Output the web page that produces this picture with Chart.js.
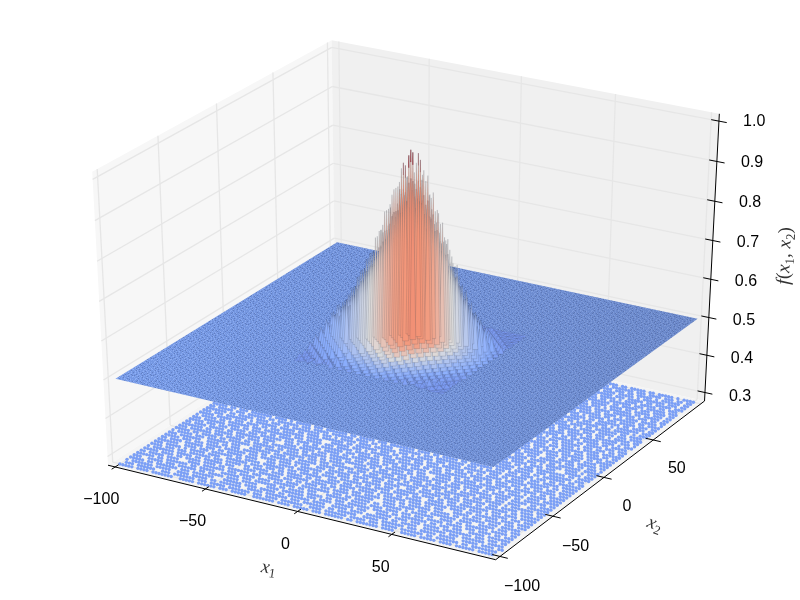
<!DOCTYPE html>
<html>
<head>
<meta charset="utf-8">
<style>
html, body { margin: 0; padding: 0; background: #fff; }
canvas { display: block; }
</style>
<script src="https://cdn.jsdelivr.net/npm/chart.js@4"></script>
</head>
<body>
<canvas id="surfaceChart" width="800" height="600"></canvas>
<script>
// axis limits and ticks
const axisLim = [-104, 104];
const zLim = [0.277, 1.018];
const gridTicks = [-100, -50, 0, 50, 100];
const axisTicks = [-100, -50, 0, 50];
const zTicks = [0.3, 0.4, 0.5, 0.6, 0.7, 0.8, 0.9, 1.0];

// flat part of the surface and the scatter below it
const surfaceEdge = [-100, 100];
const surfaceLevel = 0.5;
const floorEdge = [-100, 100];

// the peak, sampled around the origin. values are f * 100, rows run along x2
const meshAxis = [-40, -37.5, -35, -32.5, -30, -27.5, -25, -22.5, -20, -17.5, -15, -12.5, -10, -7.5, -5, -2.5, 0,
    2.5, 5, 7.5, 10, 12.5, 15, 17.5, 20, 22.5, 25, 27.5, 30, 32.5, 35, 37.5, 40];
const meshF = [
    [50,50,51,50,51,50,51,51,52,51,52,51,52,52,53,51,53,52,53,51,52,51,52,51,52,51,51,50,51,50,50,50,50],
    [50,51,50,51,51,52,51,52,51,53,52,53,51,54,52,54,51,55,52,54,52,53,51,52,51,52,51,51,50,51,50,50,50],
    [51,50,51,50,52,51,52,51,53,51,54,52,55,52,56,52,57,51,55,52,55,51,54,52,53,51,52,51,52,50,51,50,50],
    [50,51,50,52,51,53,51,53,52,54,52,56,53,57,52,58,53,59,52,57,53,56,52,54,52,53,51,52,51,51,50,51,50],
    [51,50,52,51,53,51,54,52,55,52,57,53,59,53,60,54,62,53,60,54,58,52,56,53,55,52,53,51,52,51,51,50,51],
    [50,52,51,53,52,54,52,56,53,58,54,60,54,62,55,64,55,65,54,62,55,60,53,58,52,55,52,53,51,52,50,51,50],
    [52,50,53,51,54,52,56,53,58,54,61,55,63,56,66,56,68,56,65,55,63,54,60,53,57,52,54,51,53,51,52,50,51],
    [51,53,51,54,52,56,53,59,54,62,55,65,57,68,56,71,58,72,56,69,56,65,54,62,53,58,52,55,51,53,51,52,50],
    [53,51,54,52,56,53,59,54,62,56,66,57,70,58,73,59,76,58,73,57,69,56,65,55,61,53,58,52,55,51,53,51,52],
    [52,54,52,56,53,59,55,62,56,66,58,71,59,75,60,78,61,80,59,76,60,71,57,66,55,62,54,58,52,55,51,53,51],
    [54,52,55,53,58,54,61,56,66,58,71,60,76,62,80,63,84,62,81,61,77,59,71,57,65,55,60,53,57,52,55,51,53],
    [53,55,53,58,54,62,56,66,58,71,60,76,63,81,64,86,65,88,63,84,62,78,60,72,57,66,55,61,53,57,52,54,51],
    [55,53,57,54,60,55,65,57,70,60,75,63,81,65,87,67,92,66,88,64,82,61,76,59,70,56,63,54,58,52,56,51,53],
    [54,57,54,60,55,64,57,69,59,74,62,80,64,86,67,92,69,95,68,90,65,83,62,75,58,68,56,62,54,58,53,55,52],
    [56,54,58,55,62,56,67,58,72,61,78,64,85,68,91,70,97,70,93,67,86,63,78,60,71,57,65,55,60,53,57,52,54],
    [55,58,55,61,56,66,58,71,60,77,62,84,66,90,70,97,72,100,71,95,67,87,63,79,60,71,57,64,54,59,53,56,52],
    [57,55,59,56,63,57,68,58,73,62,80,65,88,69,95,72,100,73,98,70,90,65,81,61,72,58,66,55,60,54,57,52,54],
    [55,58,56,61,57,66,57,70,61,78,63,85,67,91,71,98,72,99,70,94,66,86,62,78,59,70,56,63,55,58,52,55,51],
    [56,54,58,55,61,57,66,59,73,61,79,65,85,67,92,70,96,69,92,66,85,64,79,60,72,57,64,54,59,53,56,52,53],
    [53,56,54,59,55,63,58,68,60,75,62,81,65,87,66,93,68,94,67,89,64,82,61,74,58,67,55,61,53,57,52,54,51],
    [54,52,56,53,60,55,64,57,69,59,75,62,82,64,88,66,91,65,87,63,81,60,75,58,69,55,62,54,57,52,55,51,52],
    [52,54,52,57,53,61,55,65,57,70,60,77,62,82,64,85,63,87,62,83,61,77,59,71,56,65,54,60,52,56,51,53,50],
    [53,51,55,52,57,54,60,55,65,58,70,60,76,61,81,62,83,61,80,60,76,58,70,56,64,54,59,52,56,51,54,50,52],
    [51,53,52,55,53,58,54,61,56,67,58,70,59,76,60,79,60,79,58,75,59,70,56,65,54,61,53,57,51,54,50,52,50],
    [52,50,53,51,55,52,58,54,61,55,65,57,69,58,72,58,75,57,72,56,68,55,64,54,60,52,57,51,54,50,52,50,51],
    [50,52,51,53,52,56,53,58,54,61,55,65,56,67,56,70,57,71,55,68,55,64,53,61,52,57,51,54,51,52,50,51,50],
    [51,50,52,51,53,52,55,53,57,54,60,54,63,55,65,55,67,55,64,54,62,53,59,52,56,51,53,51,52,50,51,50,50],
    [50,51,50,52,51,53,52,54,53,56,53,59,54,60,54,63,54,63,53,60,54,58,52,56,51,54,51,52,50,51,50,50,50],
    [51,50,51,50,52,51,53,51,54,52,56,52,57,53,59,53,60,52,58,53,56,52,54,51,53,51,52,50,51,50,50,50,50],
    [50,50,50,51,50,52,51,52,52,53,51,54,52,55,52,56,52,57,52,55,52,54,51,53,51,52,50,51,50,50,50,50,50],
    [50,50,50,50,51,50,52,51,52,51,53,51,53,52,54,51,55,51,54,51,53,51,52,51,51,50,51,50,50,50,50,50,50],
    [50,50,50,50,50,51,50,51,51,52,51,52,51,53,51,53,51,53,51,52,51,52,50,51,50,51,50,50,50,50,50,50,50],
    [50,50,50,50,50,50,50,50,51,50,51,50,52,50,52,51,52,50,52,50,51,50,51,50,50,50,50,50,50,50,50,50,50]
];

// floor scatter, '#' is a point. rows run from x2=-100 to x2=100, columns from x1=-100 to x1=100.
// rows past x2=-14 are only listed for the strip the surface does not cover
const floorRows = [
    "#####.####.#######..#####.######.###.#####..#######.####.#####.###.######.##.#######.####..#####.#####.####.######.#####",
    "###.######..###.#######.###.#####.#######.###.####.#######..####.#######.#####.###.#####.#######.##.#######.##.########",
    "#.#######.#####..####.#####.##.#######..#####.#######.###.#######.##.######..#####.#######.###.#####.#####..#####.####.##",
    "#####.##.#######.###.#######...######.####.#####.##.#######.####..#####.####.#######.##.#####..#######.###.#######.#####",
    "###..#####.###.######.##.#####.####.#####...####.#######.###.####.######.###...#####.####.###.#####.#########.###.###.##",
    "######.##.#######.##.#####..######.###.#######.##.#####.#####.##.###.#######.#####.##.########.##.###.###..#####.#######",
    "##.#####.####...####.#######.###.#####.####.#######.##.###...#######.#####.####.####.###.###.#####.#####.###.####.##.###",
    "#####.####.##.#####.####.##.#######.###..#####.####.#########.###.##.#####.##.######.#.#######..####.##.#######.#####.##",
    "#.#######.#####.##.######.###...####.#######.###.##.####.###.#####.#######...####.#####.###.########.####..#####.###.###",
    "####.###.###.#######.###.#####.##.#####.####.#######.#####.##.###.###.#####.####.##.#######.#####.##.#######.###.######.",
    "###.#####.#.#####.####..#######.####.###.##.#####.##.#######.#####.#####.#.#######.####.##.###...#####.###.#####.###.###",
    "#######..####.###.#######.##.#####.#######.###.#######..####.###.#######.####.##.#####.#######.####.##.#######.####.####",
    "##.####.######.###.##.#####.####...###.#####.####.##.#####.#######.##.#####.#####.###..#####.######.####.#.#####.###.###",
    "#####.###.###.#####.#######.###.#####.####.#.#######.###.####.##.######.###.#######.####.##.###.#########.###.####.#####",
    "###.#######..####.##.###.#####.##.#######.#####..###.#######.#####.###.#####..###.#######.#####.###.##.#######.##.######",
    "#.#####.###.#######.###...#######.####.##.######.#####.##.####.#######.##.#######.###.#####.##.#######.###.#####.####.##",
    "#####.##.#####.##.#######.###.#####.#######.###.###.#######.###.###.######.##.#####.###.########.###.#####.#.#######.###",
    "###.#######.###.#####.##.#######.##.####.#####.##.#####...#####.#######.###.####.#######.##.#####.####.###.####..#######",
    "#######.##.######.###.####.##.#########.##.#####.####.#######.##.###.#####.#######.##.#####.#.#######.####.#####.##.####",
    "##.####.#####.##.########.####...####.#####.###.#######.###.#####.######.##.####.#####.###.#####.##.######.##.#######.##",
    "#####.###.###.#####.###.#######.###.#.######.#####.##.#####.###.##.#######.###...#####.#########.###.##.#####.####.#####",
    "###.#######.####.##.#####.##.#####.####.##.#######.###.#######.#####.##.#####.#######.##.####.#######.#####.#.#####.####",
    "#.#####.##.#######.###.#########.###.#####.###.#####.#####.##.####.#######.##.###.########.###.##.#####.#######.##.#####",
    "#####.#####.###.####.##.###.#######.#####...######.###.#.#######.#####.###.#####.##.####.#######.####.###.##.#######.###",
    "###.###.#######.#.#######.#####.##.####.#######.##.#######.###.##.#######.####.#######.##.##.#####.#######.####.###.####",
    "#######.##.#####.####.###.##.#########.###.#.#####.####.#######.###.#.#####.###.####.#######.###.##.####.#######.##.####",
    "##.#####.###.######.##.#######.###.#####.#######.####.##.####..#######.###.#########.###.#.#####.#######.###.#####.#####",
    "#####.##.###.#######.####.#.#####.###.#######.##.#####.###.########.####.##.#####.##.#######.###.###.####.###.##.#######",
    "###.#######.##.#####.###.#######.##.####.###.########.###.##.#####.####.#######.##.####.###.#####.#####.##.#######.##.##",
    "#.#####.#####.###.#######.###.",
    "#####.##.###.#########.##.####",
    "###.#####.####.###...#####.###",
    "#######.###.#.#####.####.#.###",
    "##.####.#####.##.#######.#####",
    "#####.###.#######.###.##.###.#",
    "###.#####..###.#####.######.##",
    "#.#######.####.##.###.####.###",
    "####.##.#####.#######.##.#####",
    "###.#####.#.####.###.#####.###",
    "#######.###.#######.####.##.##",
    "##.####.##.####.#.#####.######",
    "#####.###.######.###.###.##.##",
    "###.#.#######.##.#####.###.###",
    "#######.##.###.#####.##.#####.",
    "##.#####.###.######.####.#.###",
    "####.##.#####.##.#######.###.#",
    "###.#######.###.###.#.#####.##",
    "#.#####.#.#####.#####.###.####",
    "#####.####.##.#######.##.####.",
    "###.##.#######.###.#####.#.###",
    "#######.###.####.#.#######.###",
    "##.#####.##.#######.##.####.##",
    "#####.#.#####.###.#####.###.##",
    "###.#######.##.#######.##.####",
    "#######.##.####.#.####.#####.#",
    "#.####.#####.#######.###.##.##",
    "####.###.#.#######.##.#####.##",
    "###.#####.####.##.#####.###.##",
    "#.#######.##.#####.###.####.##",
    "####.##.#######.###.######.###",
    "###.#####.#.####.#####.##.###.",
    "#######.###.#####.##.#####.###",
    "##.####.#####.#.#######.###.##",
    "#####.###.##.#####.#.######.##",
    "###.#######.###.####.###.##.##",
    "#.###.##.#####.##.#####.#.####"
];

const coolwarm = [[59, 76, 192], [141, 176, 254], [221, 221, 221], [244, 150, 120], [180, 4, 38]];

// same camera as mplot3d: elev 30, azim -60, dist 10
const camRight = [0.866, 0.5, 0];
const camUp = [-0.25, 0.433, 0.866];
const camBack = [0.433, -0.75, 0.5];
const camDist = 10;

function pt(x1, x2, z) {
    const p = [
        (x1 - axisLim[0]) / (axisLim[1] - axisLim[0]) - 0.5,
        (x2 - axisLim[0]) / (axisLim[1] - axisLim[0]) - 0.5,
        (z - zLim[0]) / (zLim[1] - zLim[0]) - 0.5
    ];
    const dot = a => a[0] * p[0] + a[1] * p[1] + a[2] * p[2];
    const w = camDist - dot(camBack);
    return { x: 411 + 4520 * dot(camRight) / w, y: 291 - 3395 * dot(camUp) / w, w: w };
}

function shape(points, fillColor, lineColor, lineWidth) {
    return {
        data: points,
        showLine: true,
        fill: lineColor && !fillColor ? false : 'shape',
        backgroundColor: fillColor || 'transparent',
        borderColor: lineColor || 'transparent',
        borderWidth: lineWidth || 0,
        pointRadius: 0,
        tension: 0
    };
}

function segment(a, b, color, width) {
    return shape([a, b], null, color, width);
}

function colorAt(raw) {
    const t = Math.max(0, Math.min(1, raw)) * 4;
    const k = Math.min(3, Math.floor(t));
    const c = [0, 1, 2].map(n => Math.round(coolwarm[k][n] + (coolwarm[k + 1][n] - coolwarm[k][n]) * (t - k)));
    return `rgb(${c[0]},${c[1]},${c[2]})`;
}

function surfaceColor(f) {
    const low = Math.min(f, 0.9);
    return colorAt(0.19 + (low - 0.5) * 1.3 + (f - low) * 0.5);
}

const canvas = document.getElementById('surfaceChart');
const ctx = canvas.getContext('2d');

// speckle of the very dense flat triangles
const tileRows = [
    "baacabdaabacaabdaca",
    "acabdaabacabadaabac",
    "dabaacbadaabaacabad",
    "abaaadabacbaabdaaab",
    "aabdacabaadbacaabaa",
    "aadabaabaabadaacdab",
    "abaacdabaacaabaabaa",
    "daacabacdabaaadabac",
    "abadabaacaadabaacab",
    "acaabadabaacbdaabaa",
    "badaacabacabaacdaba",
    "aabcadabdaacabaabad",
    "daabaacabaadbaacaab",
    "abacdaabaabaadabaca",
    "aadabacaabdacabaada",
    "cabaadabacaabadaaba",
    "abdaabaacdabaacabda"
];
const tileColors = { a: '#7598e4', b: '#82a5f0', c: '#6280c6', d: '#8fb0f6' };
const tile = document.createElement('canvas');
tile.width = 19;
tile.height = 17;
const tileCtx = tile.getContext('2d');
tileRows.forEach((row, j) => {
    [...row].forEach((ch, i) => {
        tileCtx.fillStyle = tileColors[ch];
        tileCtx.fillRect(i, j, 1, 1);
    });
});

const darken = ctx.createLinearGradient(115, 0, 697, 0);
darken.addColorStop(0, 'rgba(70,80,110,0)');
darken.addColorStop(1, 'rgba(70,80,110,0.24)');

const [lo, hi] = axisLim;
const [zLo, zHi] = zLim;
const layers = [];

// panes
layers.push(shape([pt(lo, lo, zLo), pt(lo, hi, zLo), pt(lo, hi, zHi), pt(lo, lo, zHi), pt(lo, lo, zLo)], '#f7f7f7'));
layers.push(shape([pt(lo, hi, zLo), pt(hi, hi, zLo), pt(hi, hi, zHi), pt(lo, hi, zHi), pt(lo, hi, zLo)], '#f0f0f0'));
layers.push(shape([pt(lo, lo, zLo), pt(hi, lo, zLo), pt(hi, hi, zLo), pt(lo, hi, zLo), pt(lo, lo, zLo)], '#f4f4f4'));

// grid
const gridColor = '#e6e6e6';
gridTicks.forEach(t => {
    layers.push(segment(pt(lo, t, zLo), pt(lo, t, zHi), gridColor, 1.3));
    layers.push(segment(pt(lo, t, zLo), pt(hi, t, zLo), gridColor, 1.3));
    layers.push(segment(pt(t, hi, zLo), pt(t, hi, zHi), gridColor, 1.3));
    layers.push(segment(pt(t, lo, zLo), pt(t, hi, zLo), gridColor, 1.3));
});
zTicks.forEach(t => {
    layers.push(segment(pt(lo, lo, t), pt(lo, hi, t), gridColor, 1.3));
    layers.push(segment(pt(lo, hi, t), pt(hi, hi, t), gridColor, 1.3));
});

// floor scatter
const floorPoints = [];
floorRows.forEach((row, j) => {
    const full = row.padStart(120, '.');
    [...full].forEach((ch, i) => {
        if (ch !== '#') return;
        floorPoints.push(pt(
            floorEdge[0] + (floorEdge[1] - floorEdge[0]) * i / 119,
            floorEdge[0] + (floorEdge[1] - floorEdge[0]) * j / (floorRows.length - 1),
            zLo
        ));
    });
});
layers.push({ data: floorPoints, backgroundColor: '#7b9ff5', borderWidth: 0, pointRadius: 1.7 });

// flat surface
const [s0, s1] = surfaceEdge;
const planeCorners = [pt(s0, s0, surfaceLevel), pt(s1, s0, surfaceLevel), pt(s1, s1, surfaceLevel), pt(s0, s1, surfaceLevel), pt(s0, s0, surfaceLevel)];
layers.push(shape(planeCorners, ctx.createPattern(tile, 'repeat')));
layers.push(shape(planeCorners, darken));

// peak: a low body of triangles, far ones first, then thin spikes, the tallest last
const bodyParts = [];
const spikes = [];
const caps = [];
const meshLast = meshAxis.length - 1;

function bodyLevel(i, j) {
    const f = meshF[j][i] / 100;
    return surfaceLevel + (f - surfaceLevel) * ((i + j) % 2 === 0 ? 0.86 : 0.85);
}

function addTriangle(a, b, c) {
    const v = [a, b, c].map(([i, j]) => ({ p: pt(meshAxis[i], meshAxis[j], bodyLevel(i, j)), f: bodyLevel(i, j) }));
    const mean = (v[0].f + v[1].f + v[2].f) / 3;
    const top = Math.max(v[0].f, v[1].f, v[2].f);
    bodyParts.push({
        depth: (v[0].p.w + v[1].p.w + v[2].p.w) / 3,
        color: surfaceColor((mean + top) / 2),
        line: 'rgba(50,55,70,0.25)',
        points: [v[0].p, v[1].p, v[2].p, v[0].p]
    });
}

function addSpike(i, j) {
    const top = meshF[j][i] / 100;
    const around = [[i - 1, j], [i + 1, j], [i, j - 1], [i, j + 1]]
        .filter(([a, b]) => a >= 0 && b >= 0 && a <= meshLast && b <= meshLast)
        .map(([a, b]) => meshF[b][a] / 100);
    const base = surfaceLevel + (Math.min(...around) - surfaceLevel) * 0.15;
    const x1 = meshAxis[i];
    const x2 = meshAxis[j];
    const tip = pt(x1, x2, top);
    spikes.push({
        top: top,
        depth: tip.w,
        color: surfaceColor(top),
        line: 'rgba(50,55,70,0.4)',
        points: [tip, pt(x1 - 1.2, x2 - 0.7, base), pt(x1 + 1.2, x2 + 0.7, base), tip]
    });
    if (top >= 0.97) {
        const neck = top - 0.03;
        const share = (top - neck) / (top - base);
        caps.push({
            color: '#c0303f',
            line: 'rgba(120,30,40,0.5)',
            points: [tip, pt(x1 - 1.2 * share, x2 - 0.7 * share, neck), pt(x1 + 1.2 * share, x2 + 0.7 * share, neck), tip]
        });
    }
}

for (let j = 0; j < meshLast; j++) {
    for (let i = 0; i < meshLast; i++) {
        if ((i + j) % 2 === 0) {
            addTriangle([i, j], [i + 1, j], [i, j + 1]);
            addTriangle([i + 1, j + 1], [i + 1, j], [i, j + 1]);
        } else {
            addTriangle([i + 1, j], [i, j], [i + 1, j + 1]);
            addTriangle([i, j + 1], [i, j], [i + 1, j + 1]);
        }
    }
}
for (let j = 0; j <= meshLast; j++) {
    for (let i = 0; i <= meshLast; i++) {
        if ((i + j) % 2 === 0 && meshF[j][i] > 51) addSpike(i, j);
    }
}
bodyParts.sort((a, b) => b.depth - a.depth);
spikes.sort((a, b) => a.top - b.top || b.depth - a.depth);
bodyParts.concat(spikes, caps).forEach(t => layers.push(shape(t.points, t.color, t.line, 0.4)));

// axes and ticks
const axisColor = '#000';
layers.push(segment(pt(lo, lo, zLo), pt(hi, lo, zLo), axisColor, 1));
layers.push(segment(pt(hi, lo, zLo), pt(hi, hi, zLo), axisColor, 1));
layers.push(segment(pt(hi, hi, zLo), pt(hi, hi, zHi), axisColor, 1));
axisTicks.forEach(t => {
    layers.push(segment(pt(t, lo - 3, zLo), pt(t, lo + 3, zLo), axisColor, 1));
    layers.push(segment(pt(hi - 4, t, zLo), pt(hi + 4, t, zLo), axisColor, 1));
});
zTicks.forEach(t => {
    layers.push(segment(pt(hi - 4, hi, t), pt(hi + 4, hi, t), axisColor, 1));
});

function tickName(t) {
    return String(t).replace('-', '\u2212');
}

function drawMath(c, x, y, angle, parts) {
    c.save();
    c.translate(x, y);
    c.rotate(angle);
    c.textAlign = 'left';
    c.textBaseline = 'alphabetic';
    c.fillStyle = '#333';
    let width = 0;
    parts.forEach(p => {
        c.font = p[1];
        width += c.measureText(p[0]).width;
    });
    let at = -width / 2;
    parts.forEach(p => {
        c.font = p[1];
        c.fillText(p[0], at, p[2]);
        at += c.measureText(p[0]).width;
    });
    c.restore();
}

const italic = 'italic 19px "Liberation Serif"';
const upright = '19px "Liberation Serif"';
const sub = '13px "Liberation Serif"';

const axisText = {
    id: 'axisText',
    afterDatasetsDraw(chart) {
        const c = chart.ctx;
        c.save();
        c.font = '16px "Liberation Sans"';
        c.fillStyle = '#000';
        c.textAlign = 'center';
        c.textBaseline = 'middle';
        axisTicks.forEach(t => {
            const a = pt(t, lo, zLo);
            c.fillText(tickName(t), a.x - 11, a.y + 30);
            const b = pt(hi, t, zLo);
            c.fillText(tickName(t), b.x + 21, b.y + 27);
        });
        zTicks.forEach(t => {
            const a = pt(hi, hi, t);
            c.fillText(t.toFixed(1), a.x + 32, a.y + 3);
        });
        c.restore();
        drawMath(c, 268, 573, 0.15, [['x', italic, 0], ['1', sub, 4]]);
        drawMath(c, 653, 529, 0.35, [['x', italic, 0], ['2', sub, 4]]);
        drawMath(c, 790, 256, -Math.PI / 2 + 0.04, [
            ['f', italic, 0], ['(', upright, 0], ['x', italic, 0], ['1', sub, 4], [', ', upright, 0],
            ['x', italic, 0], ['2', sub, 4], [')', upright, 0]
        ]);
    }
};

// chart.js paints the first dataset last
new Chart(ctx, {
    type: 'scatter',
    data: { datasets: layers.reverse() },
    options: {
        responsive: false,
        animation: false,
        events: [],
        parsing: false,
        layout: { padding: 0 },
        plugins: { legend: { display: false }, tooltip: { enabled: false } },
        scales: {
            x: { type: 'linear', min: 0, max: 800, display: false },
            y: { type: 'linear', min: 0, max: 600, reverse: true, display: false }
        }
    },
    plugins: [axisText]
});
</script>
</body>
</html>
